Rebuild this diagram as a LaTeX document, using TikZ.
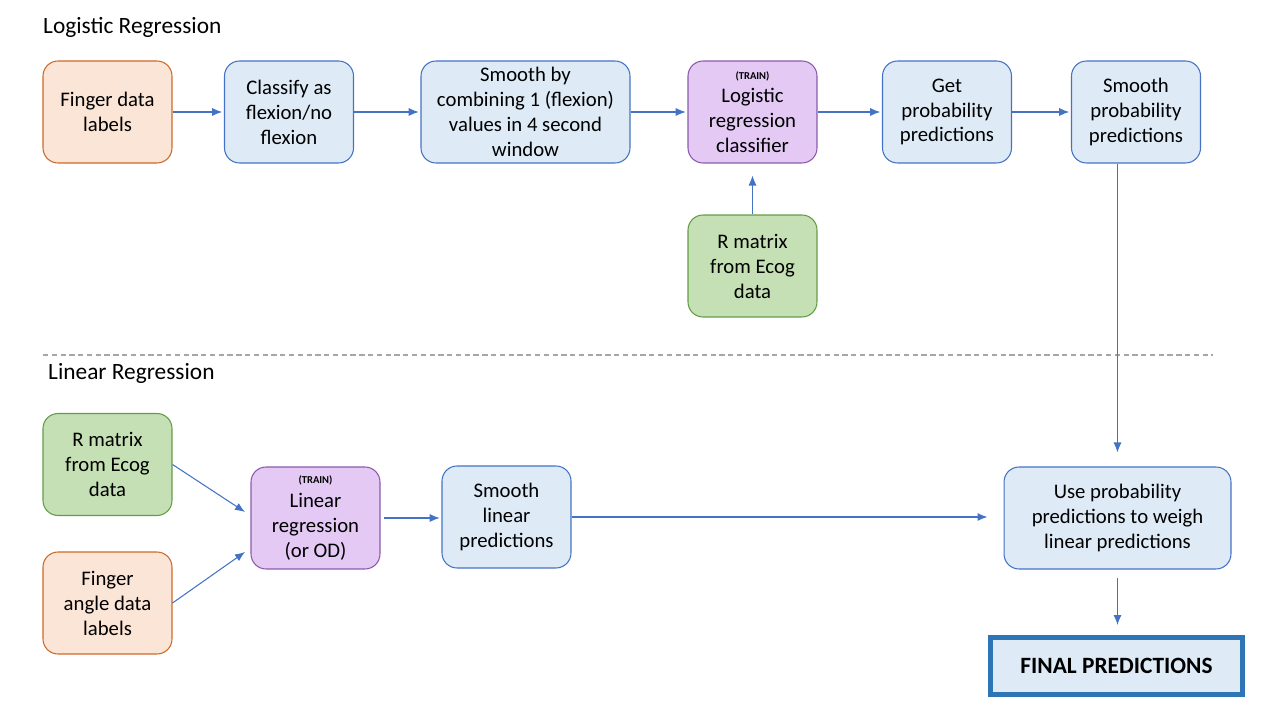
\documentclass[tikz,border=0pt]{standalone}
\usepackage{fontspec}
\setmainfont{Carlito}
\usepackage{tikz}
\usepackage{xcolor}
\usetikzlibrary{arrows.meta}
\definecolor{labfill}{RGB}{251,229,214}
\definecolor{labline}{RGB}{205,105,40}
\definecolor{stepfill}{RGB}{222,235,247}
\definecolor{stepline}{RGB}{68,114,196}
\definecolor{trainfill}{RGB}{228,201,245}
\definecolor{trainline}{RGB}{140,90,170}
\definecolor{ecogfill}{RGB}{197,224,180}
\definecolor{ecogline}{RGB}{100,155,70}
\definecolor{finalline}{RGB}{46,117,182}

\begin{document}
\begin{tikzpicture}[x=0.02cm,y=-0.02cm,
    basebox/.style={rounded corners=0.3cm, line width=0.6pt, align=center,
        minimum width=2.58cm, minimum height=2.04cm, inner sep=2pt,
        font=\fontsize{11.8}{14.2}\selectfont},
    labbox/.style={basebox, fill=labfill, draw=labline},
    stepbox/.style={basebox, fill=stepfill, draw=stepline},
    trainbox/.style={basebox, fill=trainfill, draw=trainline},
    ecogbox/.style={basebox, fill=ecogfill, draw=ecogline},
    flow/.style={-{Latex[length=2mm,width=1.6mm]}, stepline, line width=0.6pt},
    title/.style={anchor=west, font=\fontsize{13.3}{15}\selectfont}]
    % fix the page to the reference size
    \useasboundingbox (0,0) rectangle (1265,712);

    % section titles and divider
    \node[title] (logtitle) at (37,27) {Logistic Regression};
    \node[title] (lintitle) at (42,373) {Linear Regression};
    \draw[gray!70, line width=0.6pt, dash pattern=on 3pt off 2pt] (43,355) -- (1213,355);

    % logistic regression row
    \node[labbox] (fingerlab) at (107.5,112) {Finger data\\labels};
    \node[stepbox] (classify) at (289,112) {Classify as\\flexion/no\\flexion};
    \node[stepbox, minimum width=4.18cm] (smoothbin) at (525.5,112) {Smooth by\\combining 1 (flexion)\\values in 4 second\\window};
    \node[trainbox] (logreg) at (752.5,112) {{\fontsize{6}{6}\selectfont\bfseries (TRAIN)}\\[-1pt]Logistic\\regression\\classifier};
    \node[stepbox] (getprob) at (947,112) {Get\\probability\\predictions};
    \node[stepbox] (smoothprob) at (1136,112) {Smooth\\probability\\predictions};
    \node[ecogbox] (rmatA) at (752.5,266) {R matrix\\from Ecog\\data};

    % linear regression row
    \node[ecogbox] (rmatB) at (107.5,464.5) {R matrix\\from Ecog\\data};
    \node[labbox] (fingerang) at (107.5,603) {Finger\\angle data\\labels};
    \node[trainbox] (linreg) at (315.5,518) {{\fontsize{6}{6}\selectfont\bfseries (TRAIN)}\\[-1pt]Linear\\regression\\(or OD)};
    \node[stepbox] (smoothlin) at (506.5,517) {Smooth\\linear\\predictions};
    \node[stepbox, minimum width=4.54cm] (weigh) at (1117.5,518) {Use probability\\predictions to weigh\\linear predictions};
    \node[draw=finalline, fill=stepfill, line width=2.8pt, minimum width=5.04cm, minimum height=1.14cm,
        font=\fontsize{13.3}{16}\selectfont\bfseries] (final) at (1116.5,666) {FINAL PREDICTIONS};

    % free ends of the two inputs
    \coordinate (linin1) at (245,512);
    \coordinate (linin2) at (245,552);

    % connectors
    \draw[flow, shorten >=1pt] (fingerlab) -- (classify);
    \draw[flow, shorten >=1pt] (classify) -- (smoothbin);
    \draw[flow, shorten >=1pt] (smoothbin) -- (logreg);
    \draw[flow, shorten >=1pt] (logreg) -- (getprob);
    \draw[flow, shorten >=1pt] (getprob) -- (smoothprob);
    \draw[flow, shorten >=0.24cm] (rmatA) -- (logreg);
    \draw[flow, shorten >=0.28cm] (smoothprob.south -| weigh.north) -- (weigh.north);
    \draw[flow] (rmatB.east) -- (linin1);
    \draw[flow] (fingerang.east) -- (linin2);
    \draw[flow, shorten <=2pt, shorten >=1pt] (linreg.east) -- (linreg.east -| smoothlin.west);
    \draw[flow, shorten >=0.32cm] (smoothlin.east) -- (smoothlin.east -| weigh.west);
    \draw[flow, shorten <=0.16cm, shorten >=0.2cm] (weigh.south) -- (weigh.south |- final.north);
\end{tikzpicture}
\end{document}
